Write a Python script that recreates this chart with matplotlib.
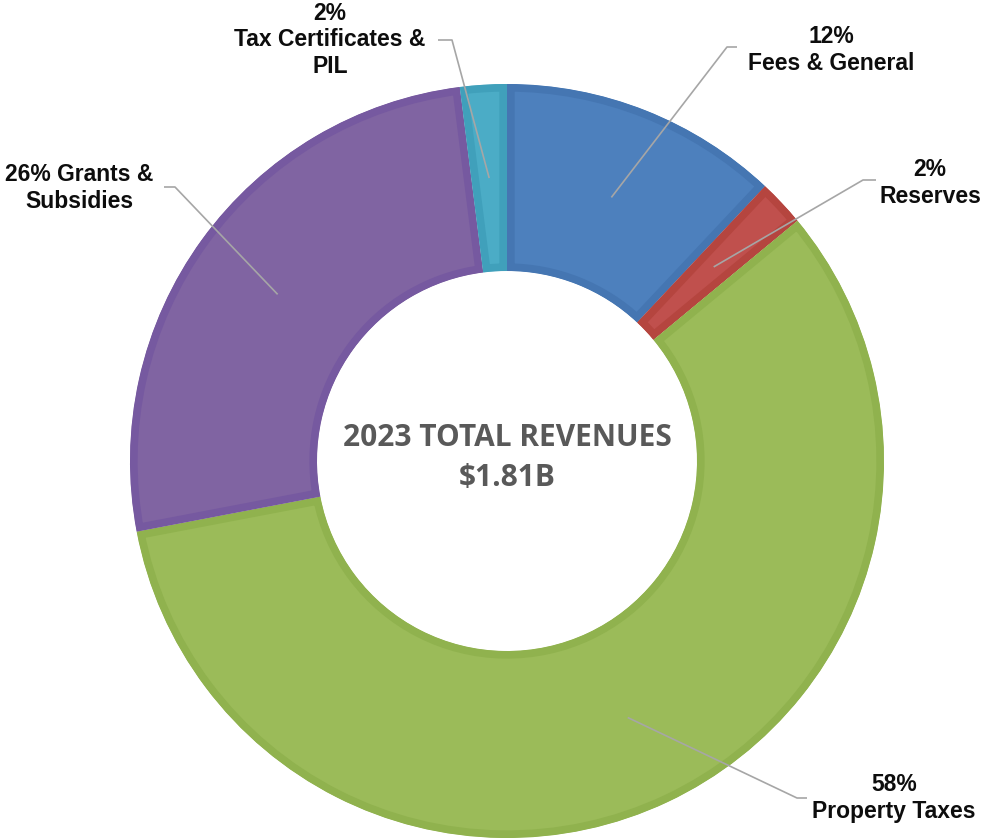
import numpy as np
import matplotlib.pyplot as plt

# revenue shares, clockwise from 12 o'clock
categories = ['Fees & General', 'Reserves', 'Property Taxes', 'Grants & Subsidies', 'Tax Certificates & PIL']
shares = [12, 2, 58, 26, 2]
label_texts = ['12%\nFees & General', '2%\nReserves', '58%\nProperty Taxes',
               '26% Grants &\nSubsidies', '2%\nTax Certificates &\nPIL']
fills = ['#4D80BD', '#C0504D', '#9BBB59', '#8064A2', '#4BACC6']
edges = ['#4576B2', '#B5453F', '#90B24E', '#7659A0', '#40A0BB']
center_title = '2023 TOTAL REVENUES\n$1.81B'

W, H = 985, 838
fig = plt.figure(figsize=(W / 100, H / 100), dpi=100)
ax = fig.add_axes([0, 0, 1, 1])

cx, cy, R, ring = 507, H - 461, 377, 187
wedges, _ = ax.pie(shares, colors=fills, startangle=90, counterclock=False,
                   radius=R, center=(cx, cy), wedgeprops=dict(width=ring))
for w, ec in zip(wedges, edges):
    w.set_edgecolor(ec)
    w.set_linewidth(11)
    w.set_clip_path(w)   # keep border inside its own wedge
    w.set_clip_on(True)

# label layout in pixel coords (y down): text centre, elbow, end of short tick
layout = [
    ((831, 50), (727, 47), (737, 47)),
    ((930, 183), (863, 180), (876, 180)),
    ((894, 798), (797, 798), (807, 798)),
    ((79, 188), (175, 187), (164, 187)),
    ((330, 40), (452, 40), (438, 40)),
]

r_mid = R - ring / 2
for w, txt, (tpos, elbow, end) in zip(wedges, label_texts, layout):
    ang = np.deg2rad((w.theta1 + w.theta2) / 2)
    sx, sy = cx + r_mid * np.cos(ang), cy + r_mid * np.sin(ang)
    ax.plot([sx, elbow[0], end[0]], [sy, H - elbow[1], H - end[1]],
            color='#A6A6A6', lw=1.2, solid_capstyle='butt', zorder=3)
    ax.text(tpos[0], H - tpos[1], txt, ha='center', va='center', fontsize=16.5,
            fontweight='bold', family=['Liberation Sans', 'DejaVu Sans'],
            color='#0D0D0D', linespacing=1.22)

ax.text(cx, H - 458, center_title, ha='center', va='center', fontsize=21.5,
        fontweight='bold', family=['Open Sans', 'DejaVu Sans'], color='#595959',
        linespacing=1.4)

ax.set_xlim(0, W)
ax.set_ylim(0, H)
ax.axis('off')
fig.savefig('out.png', dpi=100)
